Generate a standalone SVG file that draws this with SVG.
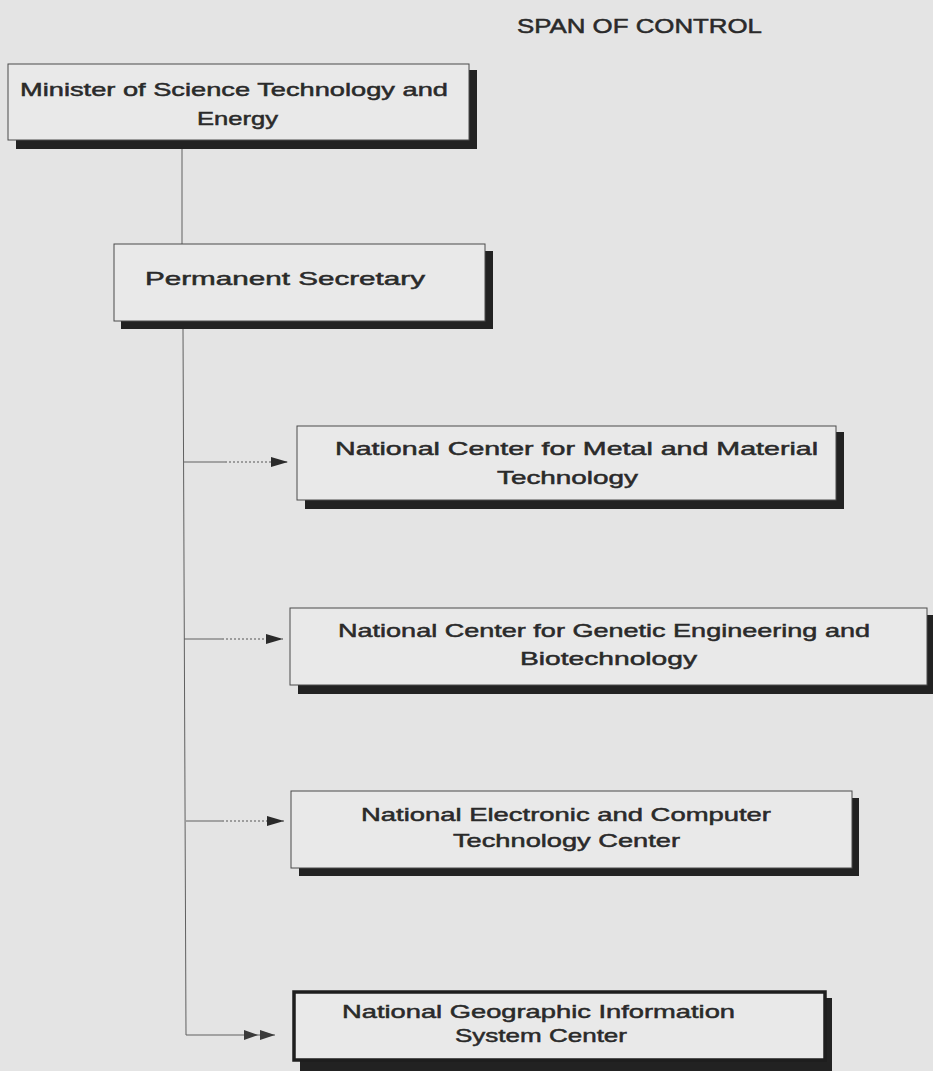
<svg xmlns="http://www.w3.org/2000/svg" width="933" height="1071" viewBox="0 0 933 1071">
<style>
.bg{fill:#e4e4e4}
.box{fill:#e9e9e9;stroke:#4a4a4a;stroke-width:1}
.box6{fill:#e9e9e9;stroke:#1e1e1e;stroke-width:3.5}
.sh{fill:#222}
.t{font-family:"Liberation Sans",Arial,sans-serif;font-size:19px;fill:#2a2a2a;stroke:#2a2a2a;stroke-width:0.5}
.ln{stroke:#606060;stroke-width:1;fill:none}
.dot{stroke:#555;stroke-width:1.2;fill:none;stroke-dasharray:2 2}
</style>
<defs>
<marker id="arr" markerWidth="18" markerHeight="10" refX="17" refY="5" orient="auto" markerUnits="userSpaceOnUse">
<path d="M0,0 L17,5 L0,10 Z" fill="#2a2a2a"/>
</marker>
</defs>
<rect class="bg" x="0" y="0" width="933" height="1071"/>
<text class="t" x="517" y="33" textLength="245" lengthAdjust="spacingAndGlyphs" style="font-size:20px">SPAN OF CONTROL</text>

<g id="connectors">
<line class="ln" x1="182" y1="149" x2="182" y2="244"/>
<line class="ln" x1="183" y1="329" x2="186" y2="1035"/>
<line class="ln" x1="184" y1="462" x2="225" y2="462"/>
<line class="dot" x1="225" y1="462" x2="288" y2="462" marker-end="url(#arr)"/>
<line class="ln" x1="184" y1="639" x2="222" y2="639"/>
<line class="dot" x1="222" y1="639" x2="283" y2="639" marker-end="url(#arr)"/>
<line class="ln" x1="186" y1="821" x2="222" y2="821"/>
<line class="dot" x1="222" y1="821" x2="284" y2="821" marker-end="url(#arr)"/>
<line class="ln" x1="186" y1="1035" x2="275" y2="1035"/>
<path d="M244,1030 L258,1035 L244,1040 Z M260,1030 L275,1035 L260,1040 Z" fill="#3a3a3a"/>
</g>

<g id="minister">
<rect class="sh" x="16" y="70" width="461" height="79"/>
<rect class="box" x="8" y="64" width="461" height="76"/>
<text class="t" x="20" y="96" textLength="428" lengthAdjust="spacingAndGlyphs">Minister of Science Technology and</text>
<text class="t" x="197" y="125" textLength="81" lengthAdjust="spacingAndGlyphs">Energy</text>
</g>

<g id="permanent-secretary">
<rect class="sh" x="121" y="251" width="372" height="78"/>
<rect class="box" x="114" y="244" width="371" height="77"/>
<text class="t" x="145" y="285" textLength="280" lengthAdjust="spacingAndGlyphs">Permanent Secretary</text>
</g>

<g id="mtec">
<rect class="sh" x="305" y="432" width="539" height="77"/>
<rect class="box" x="297" y="426" width="539" height="74"/>
<text class="t" x="335" y="455" textLength="483" lengthAdjust="spacingAndGlyphs">National Center for Metal and Material</text>
<text class="t" x="497" y="484" textLength="141" lengthAdjust="spacingAndGlyphs">Technology</text>
</g>

<g id="biotec">
<rect class="sh" x="298" y="615" width="640" height="79"/>
<rect class="box" x="290" y="608" width="637" height="77"/>
<text class="t" x="338" y="637" textLength="532" lengthAdjust="spacingAndGlyphs">National Center for Genetic Engineering and</text>
<text class="t" x="520" y="665" textLength="177" lengthAdjust="spacingAndGlyphs">Biotechnology</text>
</g>

<g id="nectec">
<rect class="sh" x="299" y="798" width="560" height="78"/>
<rect class="box" x="291" y="791" width="561" height="77"/>
<text class="t" x="361" y="821" textLength="410" lengthAdjust="spacingAndGlyphs">National Electronic and Computer</text>
<text class="t" x="453" y="847" textLength="227" lengthAdjust="spacingAndGlyphs">Technology Center</text>
</g>

<g id="ngis">
<rect class="sh" x="300" y="998" width="532" height="80"/>
<rect class="box6" x="294" y="992" width="531" height="68"/>
<text class="t" x="342" y="1018" textLength="393" lengthAdjust="spacingAndGlyphs">National Geographic Information</text>
<text class="t" x="455" y="1042" textLength="172" lengthAdjust="spacingAndGlyphs">System Center</text>
</g>
</svg>
